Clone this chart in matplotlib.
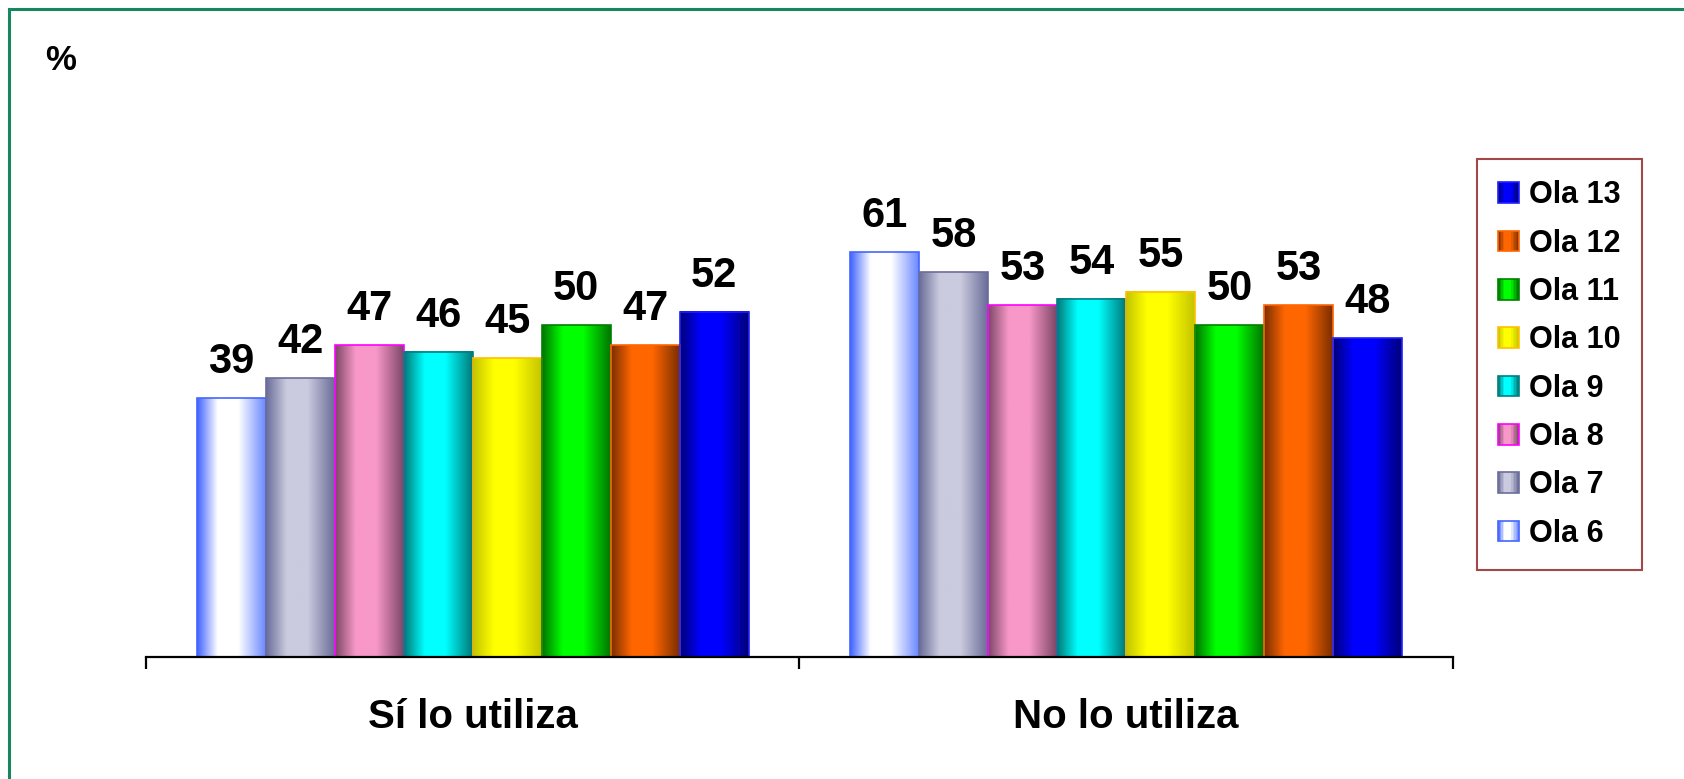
import numpy as np
import matplotlib
matplotlib.use("Agg")
import matplotlib.pyplot as plt
from matplotlib.colors import LinearSegmentedColormap
from matplotlib.patches import Rectangle, Patch
from matplotlib.lines import Line2D
from matplotlib.legend_handler import HandlerBase

plt.rcParams['font.family'] = ['Liberation Sans', 'DejaVu Sans']
plt.rcParams['font.weight'] = 'bold'

categories = ["Sí lo utiliza", "No lo utiliza"]
series = ["Ola 6", "Ola 7", "Ola 8", "Ola 9", "Ola 10", "Ola 11", "Ola 12", "Ola 13"]
values = {
    "Ola 6": [39, 61],
    "Ola 7": [42, 58],
    "Ola 8": [47, 53],
    "Ola 9": [46, 54],
    "Ola 10": [45, 55],
    "Ola 11": [50, 50],
    "Ola 12": [47, 53],
    "Ola 13": [52, 48],
}

# cylinder shading: left edge, centre, right edge, outline
shades = [
    ('#3f62ff', '#ffffff', '#6a88ff', '#4466ff'),
    ('#696c98', '#cbcbdf', '#696c98', '#6b6e9a'),
    ('#7c4666', '#f898c8', '#7c4666', '#ff00ff'),
    ('#007878', '#00ffff', '#007878', '#008080'),
    ('#c4c400', '#ffff00', '#c4c400', '#ffc000'),
    ('#007400', '#00ff00', '#007400', '#008000'),
    ('#7a2e00', '#ff6600', '#7a2e00', '#ff6600'),
    ('#000078', '#0000ff', '#000078', '#2020ff'),
]


def make_cmap(left, mid, right):
    return LinearSegmentedColormap.from_list('', [(0, left), (0.3, mid), (0.6, mid), (1, right)])


class GradHandler(HandlerBase):
    def create_artists(self, legend, orig, xd, yd, w, h, fontsize, trans):
        arts = []
        n = 14
        for i in range(n):
            arts.append(Rectangle((-xd + w * i / n, -yd), w / n, h,
                                  facecolor=orig.grad_cmap((i + 0.5) / n),
                                  edgecolor='none', transform=trans))
        arts.append(Rectangle((-xd, -yd), w, h, facecolor='none',
                              edgecolor=orig.grad_edge, lw=1.2, transform=trans))
        return arts


fig = plt.figure(figsize=(16.84, 7.79), dpi=100)
ax = fig.add_axes([146 / 1684, 1 - 657 / 779, (1453 - 146) / 1684, 531 / 779])

w = 0.1055
x = np.arange(len(categories))
handles = []
for k, name in enumerate(series):
    left, mid, right, edge = shades[k]
    cmap = make_cmap(left, mid, right)
    offs = (k - 3.5) * w
    for i, v in enumerate(values[name]):
        x0 = x[i] + offs - w / 2
        ax.imshow(np.linspace(0, 1, 256).reshape(1, -1), cmap=cmap,
                  extent=(x0, x0 + w, 0, v), aspect='auto',
                  interpolation='bilinear', zorder=1)
        ax.annotate(str(v), xy=(x[i] + offs, v), xytext=(0, 18),
                    textcoords='offset points', ha='center', va='baseline',
                    fontsize=30, fontweight='bold')
    ax.bar(x + offs, values[name], w, facecolor='none', edgecolor=edge,
           linewidth=1.2, zorder=2)
    p = Patch(label=name)
    p.grad_cmap = cmap
    p.grad_edge = edge
    handles.append(p)

ax.set_xlim(-0.5, 1.5)
ax.set_ylim(0, 80)
for s in ['left', 'right', 'top']:
    ax.spines[s].set_visible(False)
ax.spines['bottom'].set_linewidth(1.6)
ax.set_yticks([])
ax.set_xticks([-0.5, 0.5, 1.5])
ax.set_xticklabels([])
ax.tick_params(axis='x', length=8.5, width=1.6, direction='out')

for i, c in enumerate(categories):
    ax.annotate(c, xy=(x[i], 0), xycoords=('data', 'axes fraction'),
                xytext=(0, -60), textcoords='offset pixels',
                ha='center', va='center', fontsize=29, fontweight='bold')

fig.text(61 / 1684, 1 - 61 / 779, '%', ha='center', va='center',
         fontsize=25, fontweight='bold')

leg = fig.legend(handles[::-1], series[::-1], loc='upper left',
                 bbox_to_anchor=(1477 / 1684, 1 - 159 / 779),
                 handler_map={Patch: GradHandler()},
                 prop={'size': 22, 'weight': 'bold'},
                 frameon=True, fancybox=False, borderaxespad=0,
                 handlelength=0.66, handleheight=0.66, handletextpad=0.33,
                 borderpad=0.7, labelspacing=0.6)
leg.get_frame().set_edgecolor('#8b1a1a')
leg.get_frame().set_linewidth(1.5)

fig.add_artist(Line2D([9 / 1684, 9 / 1684], [0, 1 - 9 / 779],
                      transform=fig.transFigure, color='#17875e', lw=2.2))
fig.add_artist(Line2D([9 / 1684, 1], [1 - 9 / 779, 1 - 9 / 779],
                      transform=fig.transFigure, color='#17875e', lw=2.2))

fig.savefig("out.png", dpi=100)
